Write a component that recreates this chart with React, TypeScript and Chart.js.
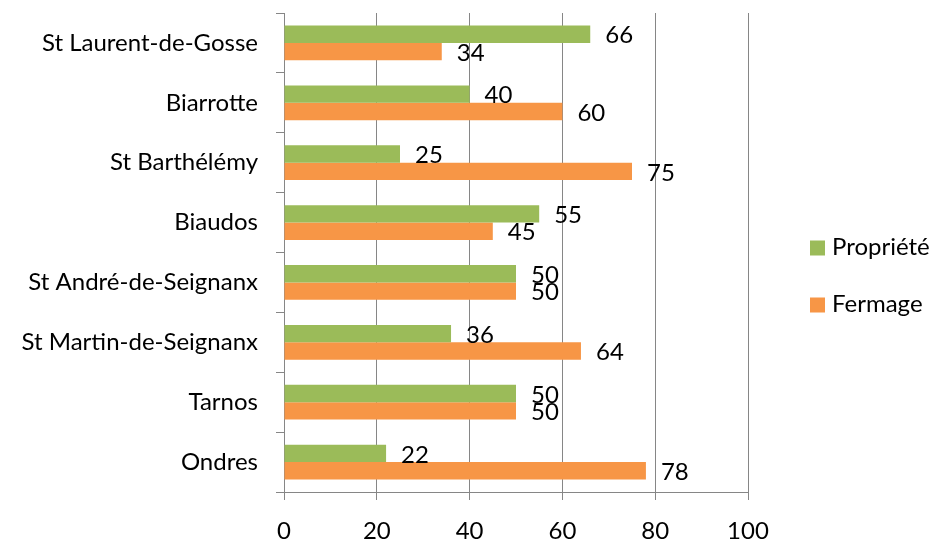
import React, { useEffect, useRef } from 'react';
import { Chart, registerables } from 'chart.js';

Chart.register(...registerables);

const categories = [
  'St Laurent-de-Gosse',
  'Biarrotte',
  'St Barthélémy',
  'Biaudos',
  'St André-de-Seignanx',
  'St Martin-de-Seignanx',
  'Tarnos',
  'Ondres',
];
const proprieteValues = [66, 40, 25, 55, 50, 36, 50, 22];
const fermageValues = [34, 60, 75, 45, 50, 64, 50, 78];
const seriesNames = ['Propriété', 'Fermage'];
const seriesColors = ['#9BBB59', '#F79646'];
const xMin = 0;
const xMax = 100;
const xStep = 20;

const FONT = 'Lato, "Open Sans", sans-serif';
const AXIS_COLOR = '#868686';

const dataLabelPlugin = {
  id: 'dataLabels',
  afterDatasetsDraw(chart: any) {
    const ctx = chart.ctx;
    ctx.save();
    ctx.font = `24px ${FONT}`;
    ctx.fillStyle = '#000';
    ctx.textAlign = 'left';
    ctx.textBaseline = 'middle';
    chart.data.datasets.forEach((ds: any, di: number) => {
      const meta = chart.getDatasetMeta(di);
      meta.data.forEach((el: any, i: number) => {
        ctx.fillText(String(ds.data[i]), el.x + 15, el.y + 1.5);
      });
    });
    ctx.restore();
  },
};

const legendPlugin = {
  id: 'sideLegend',
  afterDraw(chart: any) {
    const ctx = chart.ctx;
    const x = chart.chartArea.right + 62;
    const rows = [chart.height / 2 - 22, chart.height / 2 + 35];
    ctx.save();
    ctx.font = `24px ${FONT}`;
    ctx.textAlign = 'left';
    ctx.textBaseline = 'middle';
    chart.data.datasets.forEach((ds: any, i: number) => {
      const cy = rows[i];
      ctx.fillStyle = ds.backgroundColor;
      ctx.fillRect(x, cy - 7.5, 15, 15);
      ctx.fillStyle = '#000';
      ctx.fillText(ds.label, x + 22, cy - 1);
    });
    ctx.restore();
  },
};

export default function App() {
  const canvasRef = useRef<HTMLCanvasElement | null>(null);

  useEffect(() => {
    document.body.style.margin = '0';
    const canvas = canvasRef.current;
    if (!canvas) return;
    Chart.defaults.font.family = FONT;
    Chart.defaults.font.size = 24;
    Chart.defaults.color = '#000';
    const chart = new Chart(canvas, {
      type: 'bar',
      data: {
        labels: categories,
        datasets: [
          {
            label: seriesNames[0],
            data: proprieteValues,
            backgroundColor: seriesColors[0],
            categoryPercentage: 0.58,
            barPercentage: 1,
          },
          {
            label: seriesNames[1],
            data: fermageValues,
            backgroundColor: seriesColors[1],
            categoryPercentage: 0.58,
            barPercentage: 1,
          },
        ],
      },
      options: {
        indexAxis: 'y',
        responsive: false,
        animation: false,
        devicePixelRatio: 1,
        layout: { padding: { top: 13, right: 191, bottom: 0, left: 0 } },
        plugins: {
          legend: { display: false },
          tooltip: { enabled: false },
        },
        scales: {
          x: {
            min: xMin,
            max: xMax,
            ticks: { stepSize: xStep, padding: 17, font: { size: 24 }, color: '#000' },
            grid: { color: AXIS_COLOR, lineWidth: 1, tickLength: 8, drawTicks: true },
            border: { color: AXIS_COLOR, width: 1 },
            afterFit: (scale: any) => {
              scale.height = 48;
              scale.paddingLeft = 0;
              scale.paddingRight = 0;
            },
          },
          y: {
            ticks: { padding: 18, font: { size: 24 }, color: '#000' },
            grid: {
              drawOnChartArea: false,
              drawTicks: true,
              tickLength: 8,
              color: AXIS_COLOR,
              offset: true,
            },
            border: { color: AXIS_COLOR, width: 1 },
            afterFit: (scale: any) => {
              scale.width = 284;
              scale.paddingTop = 0;
              scale.paddingBottom = 0;
            },
          },
        },
      },
      plugins: [dataLabelPlugin, legendPlugin],
    });
    return () => chart.destroy();
  }, []);

  return (
    <div style={{ width: 939, height: 540 }}>
      <canvas ref={canvasRef} width={939} height={540} style={{ display: 'block' }} />
    </div>
  );
}
